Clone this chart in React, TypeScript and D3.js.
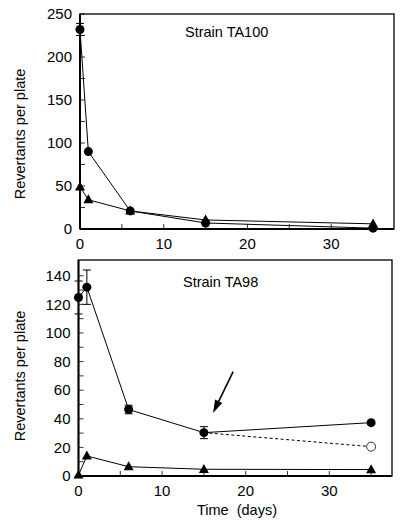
import React from "react";
import * as d3 from "d3";

const FONT = "'Liberation Sans', Arial, Helvetica, sans-serif";

// Top panel: Strain TA100
const taDays = [0, 1, 6, 15, 35];
const ta100Circles = [232, 90, 21, 7, 1];
const ta100Triangles = [49, 34, 21, 10.5, 6];
const ta100CircleErr = [7, 0, 0, 0, 0];

// Bottom panel: Strain TA98
const ta98Circles = [124.8, 132, 46.5, 30.3, 37.3];
const ta98CircleErr = [11.5, 12, 3, 4.2, 0];
const ta98Triangles = [0.7, 14, 6.5, 4.7, 4.5];
const ta98OpenDays = [15, 35];
const ta98OpenValues = [30.3, 20.5];

const xTicks = [0, 10, 20, 30];
const xMinor = [5, 15, 25, 35];
const topYTicks = [0, 50, 100, 150, 200, 250];
const topYMinor = [25, 75, 125, 175, 225];
const botYTicks = [0, 20, 40, 60, 80, 100, 120, 140];
const botYMinor = [10, 30, 50, 70, 90, 110, 130];

type PanelProps = {
  left: number;
  right: number;
  top: number;
  bottom: number;
  yMax: number;
  yTicks: number[];
  yMinor: number[];
  circles: number[];
  circleErr: number[];
  triangles: number[];
  title: string;
  titleX: number;
  titleY: number;
  labelY: number;
  xLabelBaseline: number;
  children?: (x: d3.ScaleLinear<number, number>, y: d3.ScaleLinear<number, number>) => React.ReactNode;
};

function tri(cx: number, cy: number, s: number) {
  const h = s * 0.9;
  return `M${cx},${cy - h * 0.6}L${cx + s / 2},${cy + h * 0.4}L${cx - s / 2},${cy + h * 0.4}Z`;
}

function Arrow({ x1, y1, x2, y2 }: { x1: number; y1: number; x2: number; y2: number }) {
  const dx = x2 - x1;
  const dy = y2 - y1;
  const len = Math.sqrt(dx * dx + dy * dy);
  const ux = dx / len;
  const uy = dy / len;
  const hl = 13;
  const hw = 4;
  const bx = x2 - ux * hl;
  const by = y2 - uy * hl;
  const px = -uy;
  const py = ux;
  return (
    <g>
      <line x1={x1} y1={y1} x2={bx + ux * 2} y2={by + uy * 2} stroke="#000" strokeWidth={1.6} />
      <path d={`M${x2},${y2}L${bx + px * hw},${by + py * hw}L${bx - px * hw},${by - py * hw}Z`} fill="#000" />
    </g>
  );
}

function Panel(p: PanelProps) {
  const x = d3.scaleLinear().domain([0, 37.5]).range([p.left, p.right]);
  const y = d3.scaleLinear().domain([0, p.yMax]).range([p.bottom, p.top]);
  const line = d3
    .line<number>()
    .x((_, i) => x(taDays[i]))
    .y((d) => y(d));
  const tl = 5;
  return (
    <g>
      <rect x={p.left} y={p.top} width={p.right - p.left} height={p.bottom - p.top} fill="none" stroke="#000" strokeWidth={1.3} />
      <line x1={p.left} x2={p.left} y1={p.top} y2={p.bottom} stroke="#000" strokeWidth={2} />
      <line x1={p.left} x2={p.right} y1={p.bottom} y2={p.bottom} stroke="#000" strokeWidth={2} />
      {p.yTicks.concat(p.yMinor).map((t) => (
        <line key={"yt" + t} x1={p.left} x2={p.left + tl} y1={y(t)} y2={y(t)} stroke="#000" strokeWidth={0.8} />
      ))}
      {p.yTicks.map((t) => (
        <text key={"yl" + t} x={p.left - 8} y={y(t) + 5.3} textAnchor="end" fontSize={15} fontFamily={FONT}>
          {t}
        </text>
      ))}
      {xTicks.concat(xMinor).map((t) => (
        <line key={"xt" + t} x1={x(t)} x2={x(t)} y1={p.bottom} y2={p.bottom - tl} stroke="#000" strokeWidth={0.8} />
      ))}
      {xTicks.map((t) => (
        <text key={"xl" + t} x={x(t)} y={p.xLabelBaseline} textAnchor="middle" fontSize={15} fontFamily={FONT}>
          {t}
        </text>
      ))}
      <text transform={`translate(25,${p.labelY}) rotate(-90)`} textAnchor="middle" fontSize={14.5} fontFamily={FONT}>
        Revertants per plate
      </text>
      <text x={p.titleX} y={p.titleY} fontSize={14.5} fontFamily={FONT}>
        {p.title}
      </text>
      {p.children && p.children(x, y)}
      <path d={line(p.circles) || ""} fill="none" stroke="#000" strokeWidth={1} />
      <path d={line(p.triangles) || ""} fill="none" stroke="#000" strokeWidth={1} />
      {p.circles.map((v, i) =>
        p.circleErr[i] > 0 ? (
          <g key={"e" + i} stroke="#000" strokeWidth={1}>
            <line x1={x(taDays[i])} x2={x(taDays[i])} y1={y(v - p.circleErr[i])} y2={y(v + p.circleErr[i])} />
            <line x1={x(taDays[i]) - 4} x2={x(taDays[i]) + 4} y1={y(v - p.circleErr[i])} y2={y(v - p.circleErr[i])} />
            <line x1={x(taDays[i]) - 4} x2={x(taDays[i]) + 4} y1={y(v + p.circleErr[i])} y2={y(v + p.circleErr[i])} />
          </g>
        ) : null
      )}
      {p.triangles.map((v, i) => (
        <path key={"t" + i} d={tri(x(taDays[i]), y(v), 10)} fill="#000" />
      ))}
      {p.circles.map((v, i) => (
        <circle key={"c" + i} cx={x(taDays[i])} cy={y(v)} r={4.5} fill="#000" />
      ))}
    </g>
  );
}

export default function App() {
  return (
    <svg width={400} height={529} style={{ display: "block", position: "absolute", left: 0, top: 0 }}>
      <rect width={400} height={529} fill="#fff" />
      <Panel
        left={80}
        right={394}
        top={14}
        bottom={229}
        yMax={250}
        yTicks={topYTicks}
        yMinor={topYMinor}
        circles={ta100Circles}
        circleErr={ta100CircleErr}
        triangles={ta100Triangles}
        title="Strain TA100"
        titleX={185}
        titleY={37}
        labelY={134}
        xLabelBaseline={249}
      />
      <Panel
        left={78.5}
        right={392}
        top={260}
        bottom={476}
        yMax={151}
        yTicks={botYTicks}
        yMinor={botYMinor}
        circles={ta98Circles}
        circleErr={ta98CircleErr}
        triangles={ta98Triangles}
        title="Strain TA98"
        titleX={183}
        titleY={287}
        labelY={376}
        xLabelBaseline={496}
      >
        {(x, y) => (
          <g>
            <line
              x1={x(ta98OpenDays[0])}
              y1={y(ta98OpenValues[0])}
              x2={x(ta98OpenDays[1])}
              y2={y(ta98OpenValues[1])}
              stroke="#000"
              strokeWidth={1}
              strokeDasharray="3,2.5"
            />
            <circle cx={x(ta98OpenDays[1])} cy={y(ta98OpenValues[1])} r={4.5} fill="#fff" stroke="#000" strokeWidth={0.8} />
            <Arrow x1={x(18.5)} y1={y(73)} x2={x(16.09)} y2={y(44)} />
          </g>
        )}
      </Panel>
      <text x={237} y={515} textAnchor="middle" fontSize={14.5} fontFamily={FONT} style={{ whiteSpace: "pre" }}>
        {"Time  (days)"}
      </text>
    </svg>
  );
}
